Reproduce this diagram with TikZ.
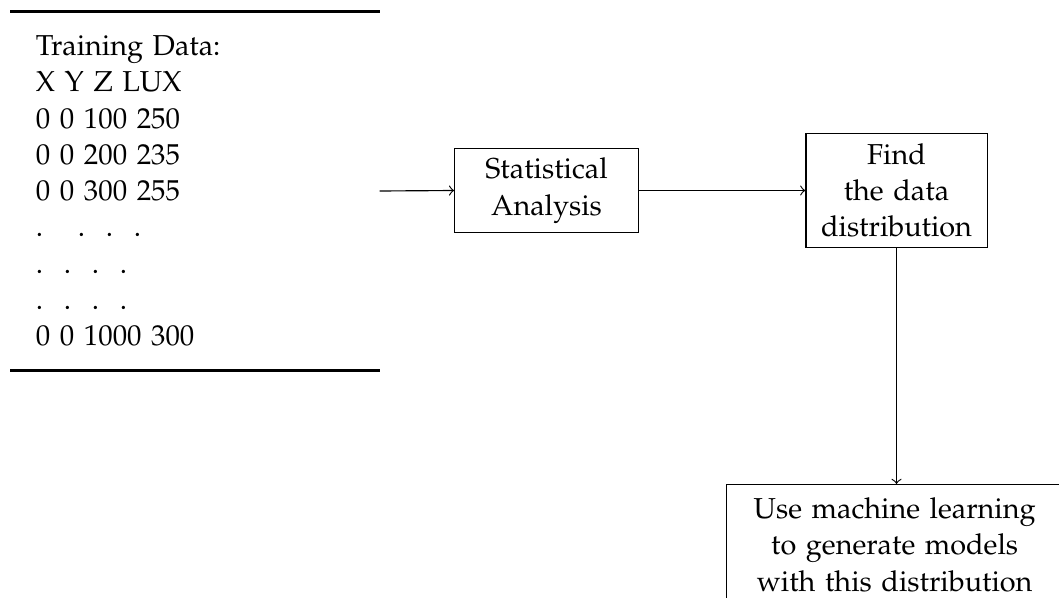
\documentclass[tikz,border=0pt]{standalone}
\usepackage[T1]{fontenc}
\usepackage{mathpazo}
\linespread{1.05}
\tikzset{
  flowbox/.style={draw, line width=0.4pt, align=center, inner sep=3.33pt},
  flowarrow/.style={->, line width=0.4pt},
  tablerule/.style={line width=0.95pt}
}
\newcommand{\dotgap}[1]{\hspace{#1}}
\begin{document}
\begin{tikzpicture}[x=0.347pt, y=-0.347pt]
  \path[use as bounding box, clip] (0,0) rectangle (1059,598);

  % training data table
  \node[align=left, text width=110.4pt, inner xsep=8.68pt, inner ysep=0pt,
        minimum height=124.3pt] (data) at (195,191) {%
    Training Data:\\
    X Y Z LUX\\
    0 0 100 250\\
    0 0 200 235\\
    0 0 300 255\\
    .\dotgap{12.1pt}.\dotgap{7.2pt}.\dotgap{7.2pt}.\\
    .\dotgap{7.2pt}.\dotgap{7.2pt}.\dotgap{7.2pt}.\\
    .\dotgap{7.2pt}.\dotgap{7.2pt}.\dotgap{7.2pt}.\\
    0 0 1000 300};
  \draw[tablerule] (data.north west) -- (data.north east);
  \draw[tablerule] (data.south west) -- (data.south east);

  % processing steps
  \node[flowbox, text width=57pt] (stat) at (546.5,190.5) {Statistical\\Analysis};
  \node[flowbox, text width=56.2pt] (find) at (896.5,190.5) {Find\\the data\\distribution};
  \node[flowbox, text width=110pt, inner ysep=4.6pt, anchor=north west] (ml) at (726,484)
    {Use machine learning\\to generate models\\with this distribution};

  % connectors
  \draw[flowarrow] (data.east) -- (stat.west);
  \draw[flowarrow] (stat.east) -- (find.west);
  \draw[flowarrow] (find.south) -- (find.south |- ml.north);
\end{tikzpicture}
\end{document}
